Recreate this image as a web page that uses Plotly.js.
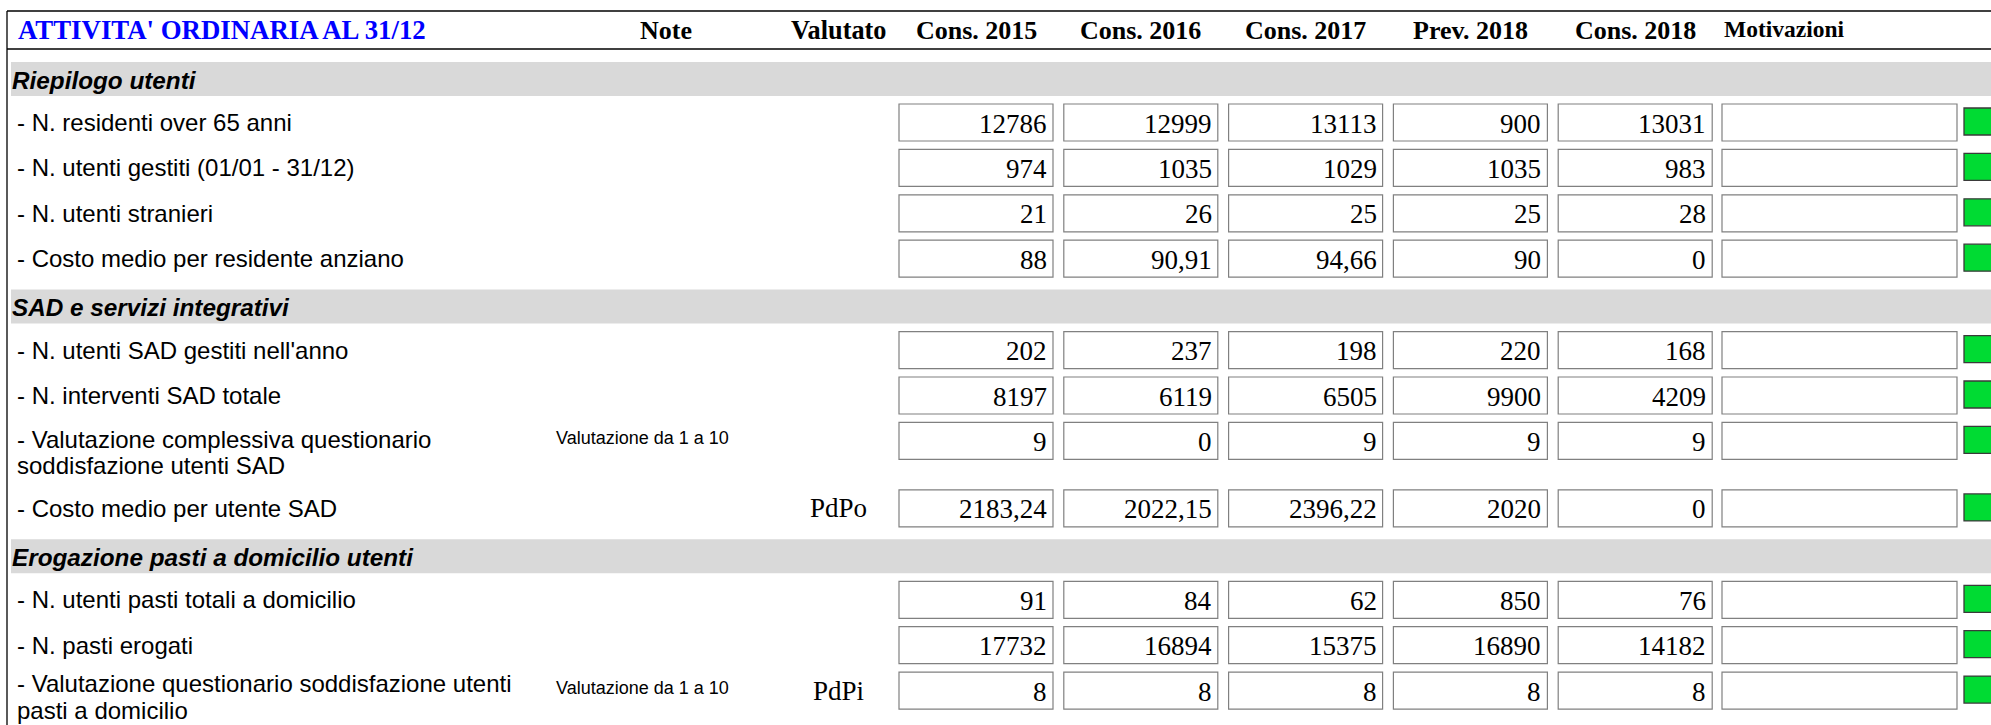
<!DOCTYPE html>
<html>
<head>
<meta charset="utf-8">
<script src="https://cdn.plot.ly/plotly-3.0.1.min.js"></script>
<style>html,body{margin:0;padding:0;background:#fff;overflow:hidden}#chart{width:1991px;height:725px}</style>
</head>
<body>
<div id="chart"></div>
<script>
// ---------------- DATA ----------------
const title = "ATTIVITA' ORDINARIA AL 31/12";
const columnHeaders = ["Cons. 2015", "Cons. 2016", "Cons. 2017", "Prev. 2018", "Cons. 2018"];
const sections = ["Riepilogo utenti", "SAD e servizi integrativi", "Erogazione pasti a domicilio utenti"];
const rowSection = [0, 0, 0, 0, 1, 1, 1, 1, 2, 2, 2];
const labels = [
  "- N. residenti over 65 anni",
  "- N. utenti gestiti (01/01 - 31/12)",
  "- N. utenti stranieri",
  "- Costo medio per residente anziano",
  "- N. utenti SAD gestiti nell'anno",
  "- N. interventi SAD totale",
  "- Valutazione complessiva questionario\nsoddisfazione utenti SAD",
  "- Costo medio per utente SAD",
  "- N. utenti pasti totali a domicilio",
  "- N. pasti erogati",
  "- Valutazione questionario soddisfazione utenti\npasti a domicilio"
];
const notes = ["", "", "", "", "", "", "Valutazione da 1 a 10", "", "", "", "Valutazione da 1 a 10"];
const valutato = ["", "", "", "", "", "", "", "PdPo", "", "", "PdPi"];
const cons2015 = [12786, 974, 21, 88, 202, 8197, 9, 2183.24, 91, 17732, 8];
const cons2016 = [12999, 1035, 26, 90.91, 237, 6119, 0, 2022.15, 84, 16894, 8];
const cons2017 = [13113, 1029, 25, 94.66, 198, 6505, 9, 2396.22, 62, 15375, 8];
const prev2018 = [900, 1035, 25, 90, 220, 9900, 9, 2020, 850, 16890, 8];
const cons2018 = [13031, 983, 28, 0, 168, 4209, 9, 0, 76, 14182, 8];
const motivazioni = ["", "", "", "", "", "", "", "", "", "", ""];

// ---------------- LAYOUT LOGIC ----------------
const W = 1991, H = 725;
const series = [cons2015, cons2016, cons2017, prev2018, cons2018];
const fmt = v => String(v).replace('.', ',');

const SANS = "Liberation Sans, Arial, sans-serif";
const SERIF = "Liberation Serif, Times New Roman, serif";

const colStart0 = 899, colPitch = 164.8, colW = 154;
const motivX0 = 1722, motivX1 = 1957;
const greenX0 = 1964, greenX1 = 2010;
const boxH = 37, bandH = 34;

const shapes = [];
const annotations = [];

function txt(x, y, text, font, xanchor) {
  annotations.push({x: x, y: y, xref: 'x', yref: 'y', text: text, showarrow: false,
    xanchor: xanchor || 'left', yanchor: 'middle', font: font, borderpad: 0});
}

// outer frame and header line
shapes.push({type: 'line', x0: 7, x1: W + 10, y0: 11, y1: 11, line: {color: '#000', width: 1.3}});
shapes.push({type: 'line', x0: 7, x1: 7, y0: 11, y1: H + 10, line: {color: '#000', width: 1.3}});
shapes.push({type: 'line', x0: 7, x1: W + 10, y0: 49, y1: 49, line: {color: '#000', width: 1.3}});

// header
txt(17, 30, "<b>" + title + "</b>", {family: SERIF, size: 26.8, color: '#0000FF'});
txt(666, 30, "<b>Note</b>", {family: SERIF, size: 26, color: '#000'}, 'center');
txt(838, 30, "<b>Valutato</b>", {family: SERIF, size: 26.3, color: '#000'}, 'center');
columnHeaders.forEach((h, c) => {
  const cx = colStart0 + c * colPitch + colW / 2;
  txt(cx, 30, "<b>" + h + "</b>", {family: SERIF, size: 26, color: '#000'}, 'center');
});
txt(1723, 29, "<b>Motivazioni</b>", {family: SERIF, size: 23.5, color: '#000'});

// rows
let y = 62;
let prevSection = -1;
labels.forEach((lab, i) => {
  if (rowSection[i] !== prevSection) {
    if (prevSection !== -1) y += 4;
    shapes.push({type: 'rect', x0: 11, x1: W + 10, y0: y, y1: y + bandH,
      fillcolor: '#D9D9D9', line: {width: 0}, layer: 'below'});
    txt(11, y + bandH / 2 + 1, "<b><i>" + sections[rowSection[i]] + "</i></b>",
      {family: SANS, size: 24.3, color: '#000'});
    y += 42;
    prevSection = rowSection[i];
  }
  const top = y, cy = top + boxH / 2;
  const lines = lab.split("\n");
  if (lines.length > 1) {
    const l2 = Math.min(cy + 25, H - 15);
    const l1 = l2 - 26.8;
    txt(16, l1, lines[0], {family: SANS, size: 24, color: '#000'});
    txt(16, l2, lines[1], {family: SANS, size: 24, color: '#000'});
  } else {
    txt(16, cy, lines[0], {family: SANS, size: 24, color: '#000'});
  }
  if (notes[i]) txt(555, cy - 3, notes[i], {family: SANS, size: 18, color: '#000'});
  if (valutato[i]) txt(838, cy, valutato[i], {family: SERIF, size: 27, color: '#000'}, 'center');

  series.forEach((s, c) => {
    const x0 = colStart0 + c * colPitch;
    shapes.push({type: 'rect', x0: x0, x1: x0 + colW, y0: top, y1: top + boxH,
      fillcolor: '#FFFFFF', line: {color: '#808080', width: 1.2}});
    txt(x0 + colW - 5, cy + 1, fmt(s[i]), {family: SERIF, size: 27, color: '#000'}, 'right');
  });
  shapes.push({type: 'rect', x0: motivX0, x1: motivX1, y0: top, y1: top + boxH,
    fillcolor: '#FFFFFF', line: {color: '#808080', width: 1.2}});
  if (motivazioni[i]) txt(motivX0 + 5, cy, motivazioni[i], {family: SERIF, size: 22, color: '#000'});
  shapes.push({type: 'rect', x0: greenX0, x1: greenX1, y0: top + 4, y1: top + 31,
    fillcolor: '#00DB33', line: {color: '#3A3A3A', width: 1.3}});

  y += lines.length > 1 ? 67.5 : 45.4;
});

const layout = {
  width: W, height: H,
  margin: {l: 0, r: 0, t: 0, b: 0, pad: 0},
  paper_bgcolor: '#FFFFFF', plot_bgcolor: '#FFFFFF',
  showlegend: false,
  xaxis: {range: [0, W], visible: false, fixedrange: true},
  yaxis: {range: [H, 0], visible: false, fixedrange: true},
  shapes: shapes,
  annotations: annotations
};

Plotly.newPlot('chart', [{x: [], y: [], type: 'scatter', mode: 'markers', hoverinfo: 'skip'}], layout,
  {staticPlot: true, displayModeBar: false});
</script>
</body>
</html>
